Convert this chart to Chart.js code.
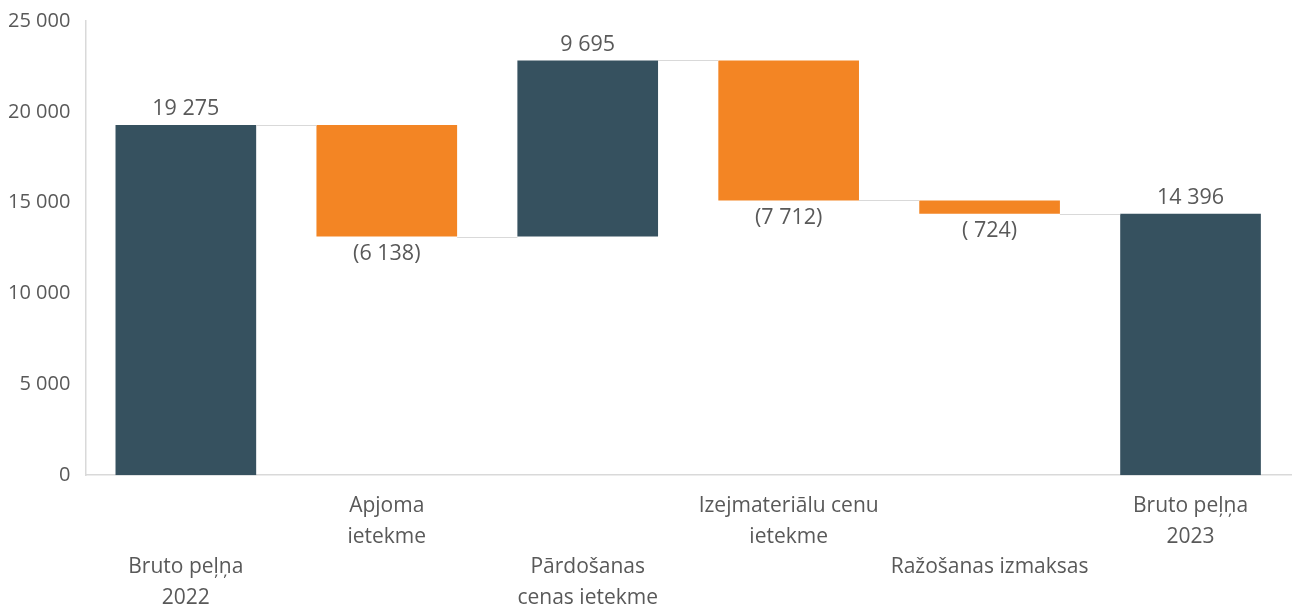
<!DOCTYPE html>
<html>
<head>
<meta charset="utf-8">
<script src="https://cdn.jsdelivr.net/npm/chart.js@4"></script>
<style>
    html, body { margin: 0; padding: 0; background: #ffffff; }
    #wrap { width: 1292px; height: 606px; position: relative; }
</style>
</head>
<body>
<div id="wrap"><canvas id="waterfallChart"></canvas></div>
<script>
// Waterfall data
const categories = [
    ['', '', 'Bruto peļņa', '2022'],
    ['Apjoma', 'ietekme'],
    ['', '', 'Pārdošanas', 'cenas ietekme'],
    ['Izejmateriālu cenu', 'ietekme'],
    ['', '', 'Ražošanas izmaksas'],
    ['Bruto peļņa', '2023']
];
const changes = [19275, -6138, 9695, -7712, -724, 14396];
const isTotal = [true, false, false, false, false, true];
const yTicks = [0, 5000, 10000, 15000, 20000, 25000];

const darkColor = '#36515f';
const orangeColor = '#f38524';
const textColor = '#595959';
const lineColor = '#d9d9d9';

function fmt(v) {
    return Math.abs(v).toString().replace(/\B(?=(\d{3})+(?!\d))/g, ' ');
}

// floating ranges from running total
const ranges = [];
let running = 0;
changes.forEach((c, i) => {
    if (isTotal[i]) {
        ranges.push([0, c]);
        running = c;
    } else {
        ranges.push([running, running + c]);
        running += c;
    }
});

const barColors = changes.map((c, i) => (isTotal[i] || c >= 0) ? darkColor : orangeColor);

// connectors + value labels
const waterfallPlugin = {
    id: 'waterfallExtras',
    afterDatasetsDraw(chart) {
        const ctx = chart.ctx;
        const meta = chart.getDatasetMeta(0);
        const y = chart.scales.y;
        ctx.save();
        ctx.strokeStyle = lineColor;
        ctx.lineWidth = 1.2;
        for (let i = 0; i < meta.data.length - 1; i++) {
            const cur = meta.data[i];
            const next = meta.data[i + 1];
            const py = Math.round(y.getPixelForValue(ranges[i][1])) + 0.5;
            ctx.beginPath();
            ctx.moveTo(cur.x + cur.width / 2, py);
            ctx.lineTo(next.x - next.width / 2, py);
            ctx.stroke();
        }

        ctx.fillStyle = textColor;
        ctx.font = '21.5px "Open Sans", sans-serif';
        ctx.textAlign = 'center';
        ctx.textBaseline = 'middle';
        meta.data.forEach((bar, i) => {
            const c = changes[i];
            const hi = Math.max(ranges[i][0], ranges[i][1]);
            const lo = Math.min(ranges[i][0], ranges[i][1]);
            if (isTotal[i] || c >= 0) {
                ctx.fillText(fmt(c), bar.x, y.getPixelForValue(hi) - 16);
            } else {
                const txt = Math.abs(c) < 1000 ? '( ' + fmt(c) + ')' : '(' + fmt(c) + ')';
                ctx.fillText(txt, bar.x, y.getPixelForValue(lo) + 17);
            }
        });
        ctx.restore();
    }
};

new Chart(document.getElementById('waterfallChart'), {
    type: 'bar',
    data: {
        labels: categories,
        datasets: [{
            data: ranges,
            backgroundColor: barColors,
            borderWidth: 0,
            categoryPercentage: 1.0,
            barPercentage: 0.7
        }]
    },
    options: {
        responsive: true,
        maintainAspectRatio: false,
        animation: false,
        layout: { padding: { left: -7, right: 1, top: 0, bottom: -23 } },
        plugins: {
            legend: { display: false },
            tooltip: { enabled: false }
        },
        scales: {
            x: {
                grid: { display: false, drawTicks: false },
                border: { display: true, color: lineColor, width: 1.5 },
                ticks: {
                    color: textColor,
                    font: { family: '"Open Sans", sans-serif', size: 21, lineHeight: 1.45 },
                    maxRotation: 0,
                    autoSkip: false,
                    padding: 16
                }
            },
            y: {
                min: 0,
                max: 25000,
                afterBuildTicks(axis) {
                    axis.ticks = yTicks.map(v => ({ value: v }));
                },
                grid: { display: false, drawTicks: false },
                border: { display: true, color: lineColor, width: 1.5 },
                ticks: {
                    color: textColor,
                    font: { family: '"Open Sans", sans-serif', size: 20, lineHeight: 0.6 },
                    padding: 15,
                    callback: v => fmt(v)
                }
            }
        }
    },
    plugins: [waterfallPlugin]
});
</script>
</body>
</html>
